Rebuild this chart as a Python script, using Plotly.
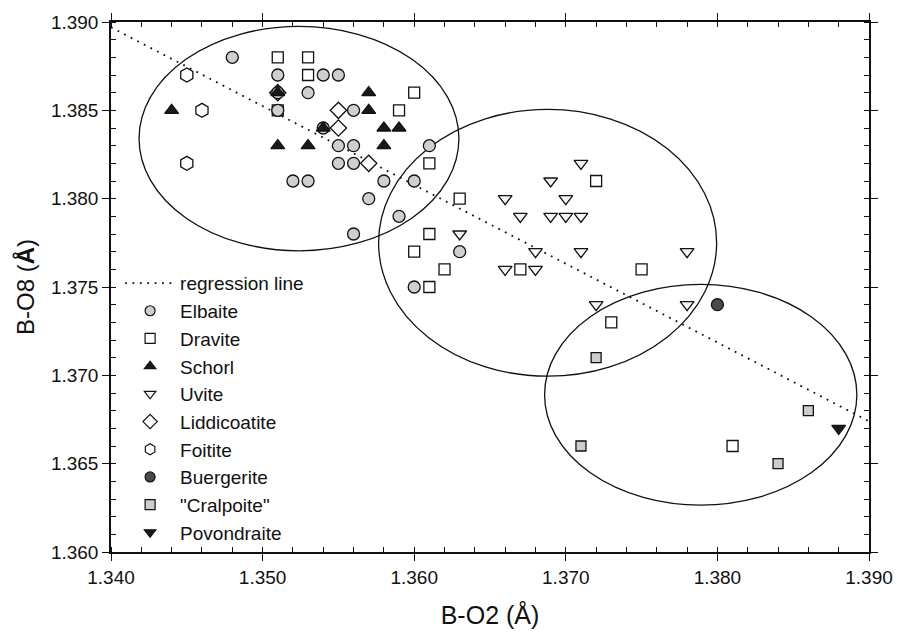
import plotly.graph_objects as go

# B-O2 vs B-O8 bond lengths (Å) by tourmaline species
elbaite_x = [1.348, 1.351, 1.354, 1.355, 1.351, 1.353, 1.351, 1.356, 1.354, 1.355, 1.356, 1.361,
             1.355, 1.356, 1.352, 1.353, 1.358, 1.360, 1.357, 1.359, 1.356, 1.363, 1.360]
elbaite_y = [1.388, 1.387, 1.387, 1.387, 1.386, 1.386, 1.385, 1.385, 1.384, 1.383, 1.383, 1.383,
             1.382, 1.382, 1.381, 1.381, 1.381, 1.381, 1.380, 1.379, 1.378, 1.377, 1.375]

dravite_x = [1.351, 1.353, 1.353, 1.360, 1.351, 1.359, 1.361, 1.363, 1.372, 1.361, 1.360, 1.362,
             1.367, 1.375, 1.361, 1.373, 1.381]
dravite_y = [1.388, 1.388, 1.387, 1.386, 1.385, 1.385, 1.382, 1.380, 1.381, 1.378, 1.377, 1.376,
             1.376, 1.376, 1.375, 1.373, 1.366]

schorl_x = [1.344, 1.351, 1.357, 1.357, 1.354, 1.358, 1.359, 1.351, 1.353, 1.358]
schorl_y = [1.385, 1.386, 1.386, 1.385, 1.384, 1.384, 1.384, 1.383, 1.383, 1.383]

uvite_x = [1.371, 1.369, 1.366, 1.370, 1.367, 1.369, 1.370, 1.371, 1.363, 1.368, 1.371, 1.378,
           1.366, 1.368, 1.372, 1.378]
uvite_y = [1.382, 1.381, 1.380, 1.380, 1.379, 1.379, 1.379, 1.379, 1.378, 1.377, 1.377, 1.377,
           1.376, 1.376, 1.374, 1.374]

liddicoatite_x = [1.351, 1.355, 1.355, 1.357]
liddicoatite_y = [1.386, 1.385, 1.384, 1.382]

foitite_x = [1.345, 1.346, 1.345]
foitite_y = [1.387, 1.385, 1.382]

buergerite_x = [1.380]
buergerite_y = [1.374]

cralpoite_x = [1.372, 1.371, 1.384, 1.386]
cralpoite_y = [1.371, 1.366, 1.365, 1.368]

povondraite_x = [1.388]
povondraite_y = [1.367]

# regression line end points
reg_x = [1.340, 1.390]
reg_y = [1.3897, 1.3674]

# grouping ellipses: centre x, centre y, half-width, half-height
ell_cx = [1.3524, 1.3688, 1.3789]
ell_cy = [1.3834, 1.3775, 1.3689]
ell_ax = [0.01055, 0.01115, 0.0103]
ell_ay = [0.00635, 0.00755, 0.00625]

FONT = "Arial, Liberation Sans, Helvetica, sans-serif"
BLACK = "#111111"

species = [
    # name, xs, ys, symbol, fill, data size, legend size
    ("Dravite", dravite_x, dravite_y, "square", "white", 11, 10),
    ("Liddicoatite", liddicoatite_x, liddicoatite_y, "diamond", "white", 12.5, 11),
    ("Foitite", foitite_x, foitite_y, "hexagon", "white", 14, 11),
    ("Elbaite", elbaite_x, elbaite_y, "circle", "#cfcfcf", 12, 10),
    ("Schorl", schorl_x, schorl_y, "triangle-up", "#1a1a1a", 12, 10),
    ("Uvite", uvite_x, uvite_y, "triangle-down", "#f4f4f4", 12, 10),
    ("Buergerite", buergerite_x, buergerite_y, "circle", "#4a4a4a", 12, 10),
    ('"Cralpoite"', cralpoite_x, cralpoite_y, "square", "#cdcdcd", 10, 10),
    ("Povondraite", povondraite_x, povondraite_y, "triangle-down", "#1a1a1a", 12, 10),
]
style = {s[0]: s for s in species}
legend_order = ["Elbaite", "Dravite", "Schorl", "Uvite", "Liddicoatite", "Foitite",
                "Buergerite", '"Cralpoite"', "Povondraite"]

fig = go.Figure()

# regression line
fig.add_trace(go.Scatter(
    x=reg_x, y=reg_y, mode="lines", name="regression line",
    line=dict(color=BLACK, width=1.8, dash="1.8px,5.6px"),
    showlegend=True,
))

# data points
for name, xs, ys, sym, fill, size, _ in species:
    fig.add_trace(go.Scatter(
        x=xs, y=ys, mode="markers", name=name, showlegend=False,
        marker=dict(symbol=sym, size=size, color=fill,
                    line=dict(color=BLACK, width=1.3)),
    ))

# legend entries (smaller symbols)
for name in legend_order:
    _, _, _, sym, fill, _, lsize = style[name]
    fig.add_trace(go.Scatter(
        x=[None], y=[None], mode="markers", name=name, showlegend=True,
        marker=dict(symbol=sym, size=lsize, color=fill,
                    line=dict(color=BLACK, width=1.2)),
    ))

# ellipses
for cx, cy, ax, ay in zip(ell_cx, ell_cy, ell_ax, ell_ay):
    fig.add_shape(type="circle", xref="x", yref="y",
                  x0=cx - ax, x1=cx + ax, y0=cy - ay, y1=cy + ay,
                  line=dict(color=BLACK, width=1.3), layer="below")

axis_common = dict(
    showline=True, linecolor=BLACK, linewidth=1.5, mirror="allticks",
    showgrid=False, zeroline=False, ticks="outside", ticklen=7, tickwidth=1.2,
    tickcolor=BLACK, tickfont=dict(family=FONT, size=19, color=BLACK),
    tickformat=".3f",
)

fig.update_layout(
    width=905, height=637,
    margin=dict(l=111, r=30, t=19, b=85),
    paper_bgcolor="white", plot_bgcolor="white",
    font=dict(family=FONT, color=BLACK),
    xaxis=dict(
        range=[1.340, 1.390], tick0=1.340, dtick=0.010,
        minor=dict(dtick=0.002, ticks="inside", ticklen=5, tickcolor=BLACK, tickwidth=1),
        title=dict(text="B-O2 (Å)", font=dict(family=FONT, size=25, color=BLACK), standoff=20),
        **axis_common,
    ),
    yaxis=dict(
        range=[1.360, 1.390], tick0=1.360, dtick=0.005,
        minor=dict(dtick=0.001, ticks="inside", ticklen=5, tickcolor=BLACK, tickwidth=1),
        title=dict(text="B-O8 (<b>Å</b>)", font=dict(family=FONT, size=24, color=BLACK), standoff=10),
        **axis_common,
    ),
    # inner halves of the major ticks, so they cross the axis lines
    xaxis2=dict(overlaying="x", range=[1.340, 1.390], tick0=1.340, dtick=0.010,
                ticks="inside", ticklen=7, tickwidth=1.2, tickcolor=BLACK,
                showticklabels=False, showgrid=False, zeroline=False, showline=False,
                side="bottom", anchor="y"),
    yaxis2=dict(overlaying="y", range=[1.360, 1.390], tick0=1.360, dtick=0.005,
                ticks="inside", ticklen=7, tickwidth=1.2, tickcolor=BLACK,
                showticklabels=False, showgrid=False, zeroline=False, showline=False,
                side="left", anchor="x"),
    legend=dict(
        x=0.012, y=0.543, xanchor="left", yanchor="top",
        bgcolor="rgba(0,0,0,0)", borderwidth=0,
        font=dict(family=FONT, size=19, color=BLACK),
        itemwidth=50, tracegroupgap=0,
    ),
    showlegend=True,
)

fig.write_html("out.html")
